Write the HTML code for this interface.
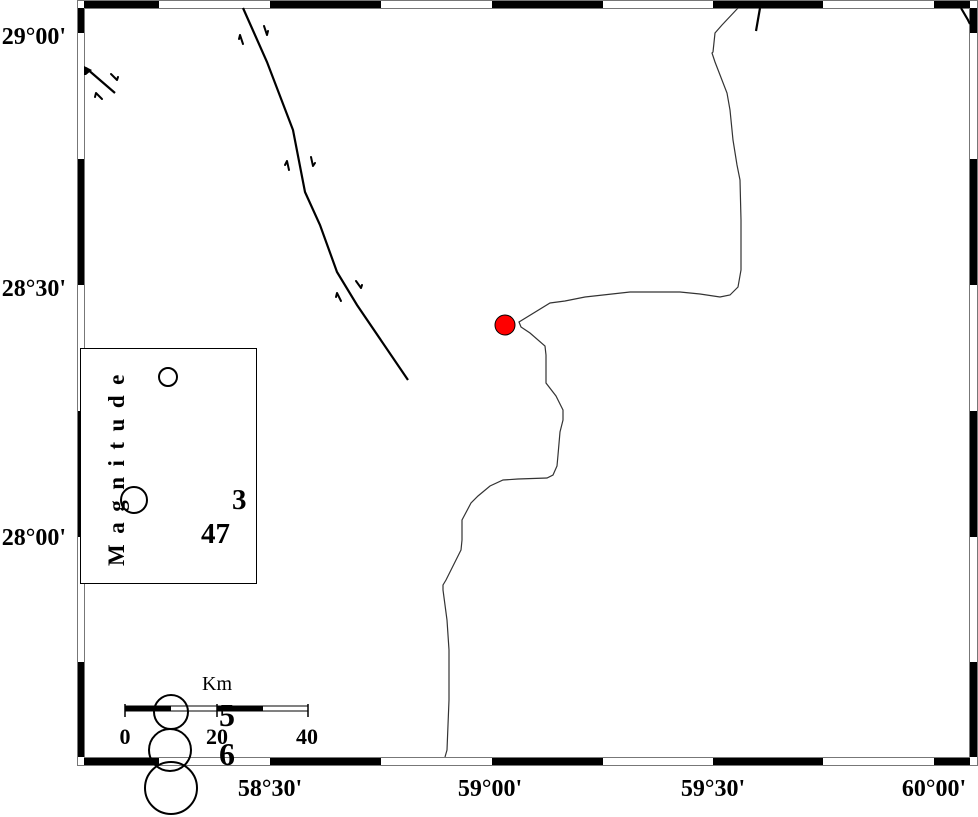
<!DOCTYPE html>
<html><head><style>
html,body{margin:0;padding:0;background:#fff}
svg{display:block}
text{font-family:"Liberation Serif",serif}
</style></head><body>
<svg width="978" height="817" viewBox="0 0 978 817" xmlns="http://www.w3.org/2000/svg">
<rect width="978" height="817" fill="#fff"/>
<g fill="#fff" stroke="#777" stroke-width="1">
<rect x="77.5" y="0.5" width="900" height="765"/>
<rect x="84.5" y="8.5" width="885" height="749"/>
</g>
<g fill="#000">
<rect x="84" y="1" width="75" height="7"/><rect x="270" y="1" width="111" height="7"/><rect x="492" y="1" width="111" height="7"/><rect x="713" y="1" width="110" height="7"/><rect x="934" y="1" width="36" height="7"/>
<rect x="84" y="758" width="75" height="7"/><rect x="270" y="758" width="111" height="7"/><rect x="492" y="758" width="111" height="7"/><rect x="713" y="758" width="110" height="7"/><rect x="934" y="758" width="36" height="7"/>
<rect x="78" y="8" width="6" height="25"/><rect x="78" y="159" width="6" height="126"/><rect x="78" y="411" width="6" height="126"/><rect x="78" y="662" width="6" height="95"/>
<rect x="970" y="8" width="7" height="25"/><rect x="970" y="159" width="7" height="126"/><rect x="970" y="411" width="7" height="126"/><rect x="970" y="662" width="7" height="95"/>
</g>
<g font-weight="bold" font-size="24" fill="#000">
<text x="66" y="44" text-anchor="end">29°00'</text>
<text x="66" y="296" text-anchor="end">28°30'</text>
<text x="66" y="545" text-anchor="end">28°00'</text>
<text x="270" y="796" text-anchor="middle">58°30'</text>
<text x="490" y="796" text-anchor="middle">59°00'</text>
<text x="713" y="796" text-anchor="middle">59°30'</text>
<text x="934" y="796" text-anchor="middle">60°00'</text>
</g>
<polyline fill="none" stroke="#333" stroke-width="1.2" points="738,8 722,25 715,33 713,52 712,53 715,62 727,93 730,110 733,140 737,165 740,180 741,220 741,270 738,287 730,295 720,297 700,294 680,292 650,292 630,292 585,297 565,301 550,303 519,322 521,327 530,333 545,346 546,355 546,383 556,396 563,410 563,420 560,432 558,455 557,466 553,475 547,478 518,479 503,480 490,486 478,496 471,503 462,520 462,540 461,550 446,580 443,585 443,590 447,620 449,650 449,700 447,750 445,757"/>
<g stroke="#000" stroke-width="2.2" fill="none">
<polyline points="243,8 267,62 293,130 305,192 320,225 337,272 357,305 408,380"/>
<polyline points="86,68 115,93"/>
<polyline points="760,8 756,31"/>
<polyline points="961,8 968,20 970,24"/>
</g>
<polygon points="84,66 92,70 86,75 84,75" fill="#000"/>
<g stroke="#000" stroke-width="2" fill="none" stroke-linecap="round">
<path d="M240,35 L243,44 M240,35 L239,39"/>
<path d="M264,26 L267,35 M267,35 L268,31"/>
<path d="M287,161 L289,170 M287,161 L285,165"/>
<path d="M311,157 L313,166 M313,166 L315,163"/>
<path d="M337,293 L341,301 M337,293 L336,297"/>
<path d="M356,281 L361,288 M361,288 L362,285"/>
<path d="M96,93 L102,99 M96,93 L95,97"/>
<path d="M111,74 L117,80 M117,80 L118,77"/>
</g>
<circle cx="505" cy="325" r="10" fill="#f00" stroke="#000" stroke-width="1"/>
<rect x="80.5" y="348.5" width="176" height="235" fill="#fff" stroke="#000" stroke-width="1"/>
<circle cx="168" cy="377" r="9" fill="none" stroke="#000" stroke-width="2"/>
<text transform="translate(124,566) rotate(-90)" font-weight="bold" font-size="23" letter-spacing="10.5" fill="#000">Magnitude</text>
<circle cx="134" cy="500" r="13" fill="none" stroke="#000" stroke-width="2"/>
<text x="232" y="509" font-weight="bold" font-size="29" fill="#000">3</text>
<text x="201" y="543" font-weight="bold" font-size="29" fill="#000">47</text>
<rect x="125" y="706" width="183" height="5" fill="#fff" stroke="#000" stroke-width="1"/>
<rect x="125" y="706" width="46" height="5" fill="#000"/>
<rect x="217" y="706" width="46" height="5" fill="#000"/>
<g stroke="#000" stroke-width="1.5"><line x1="125" y1="704" x2="125" y2="717"/><line x1="217" y1="704" x2="217" y2="717"/><line x1="308" y1="704" x2="308" y2="717"/></g>
<text x="217" y="690" text-anchor="middle" font-size="20" fill="#000">Km</text>
<g font-weight="bold" font-size="22" fill="#000" text-anchor="middle">
<text x="125" y="744">0</text><text x="217" y="744">20</text><text x="307" y="744">40</text>
</g>
<g fill="none" stroke="#000" stroke-width="2">
<circle cx="171" cy="712" r="17"/>
<circle cx="170" cy="750" r="21"/>
<circle cx="171" cy="788" r="26"/>
</g>
<g font-weight="bold" font-size="32" fill="#000">
<text x="219" y="726">5</text>
<text x="219" y="765">6</text>
</g>
</svg>
</body></html>
